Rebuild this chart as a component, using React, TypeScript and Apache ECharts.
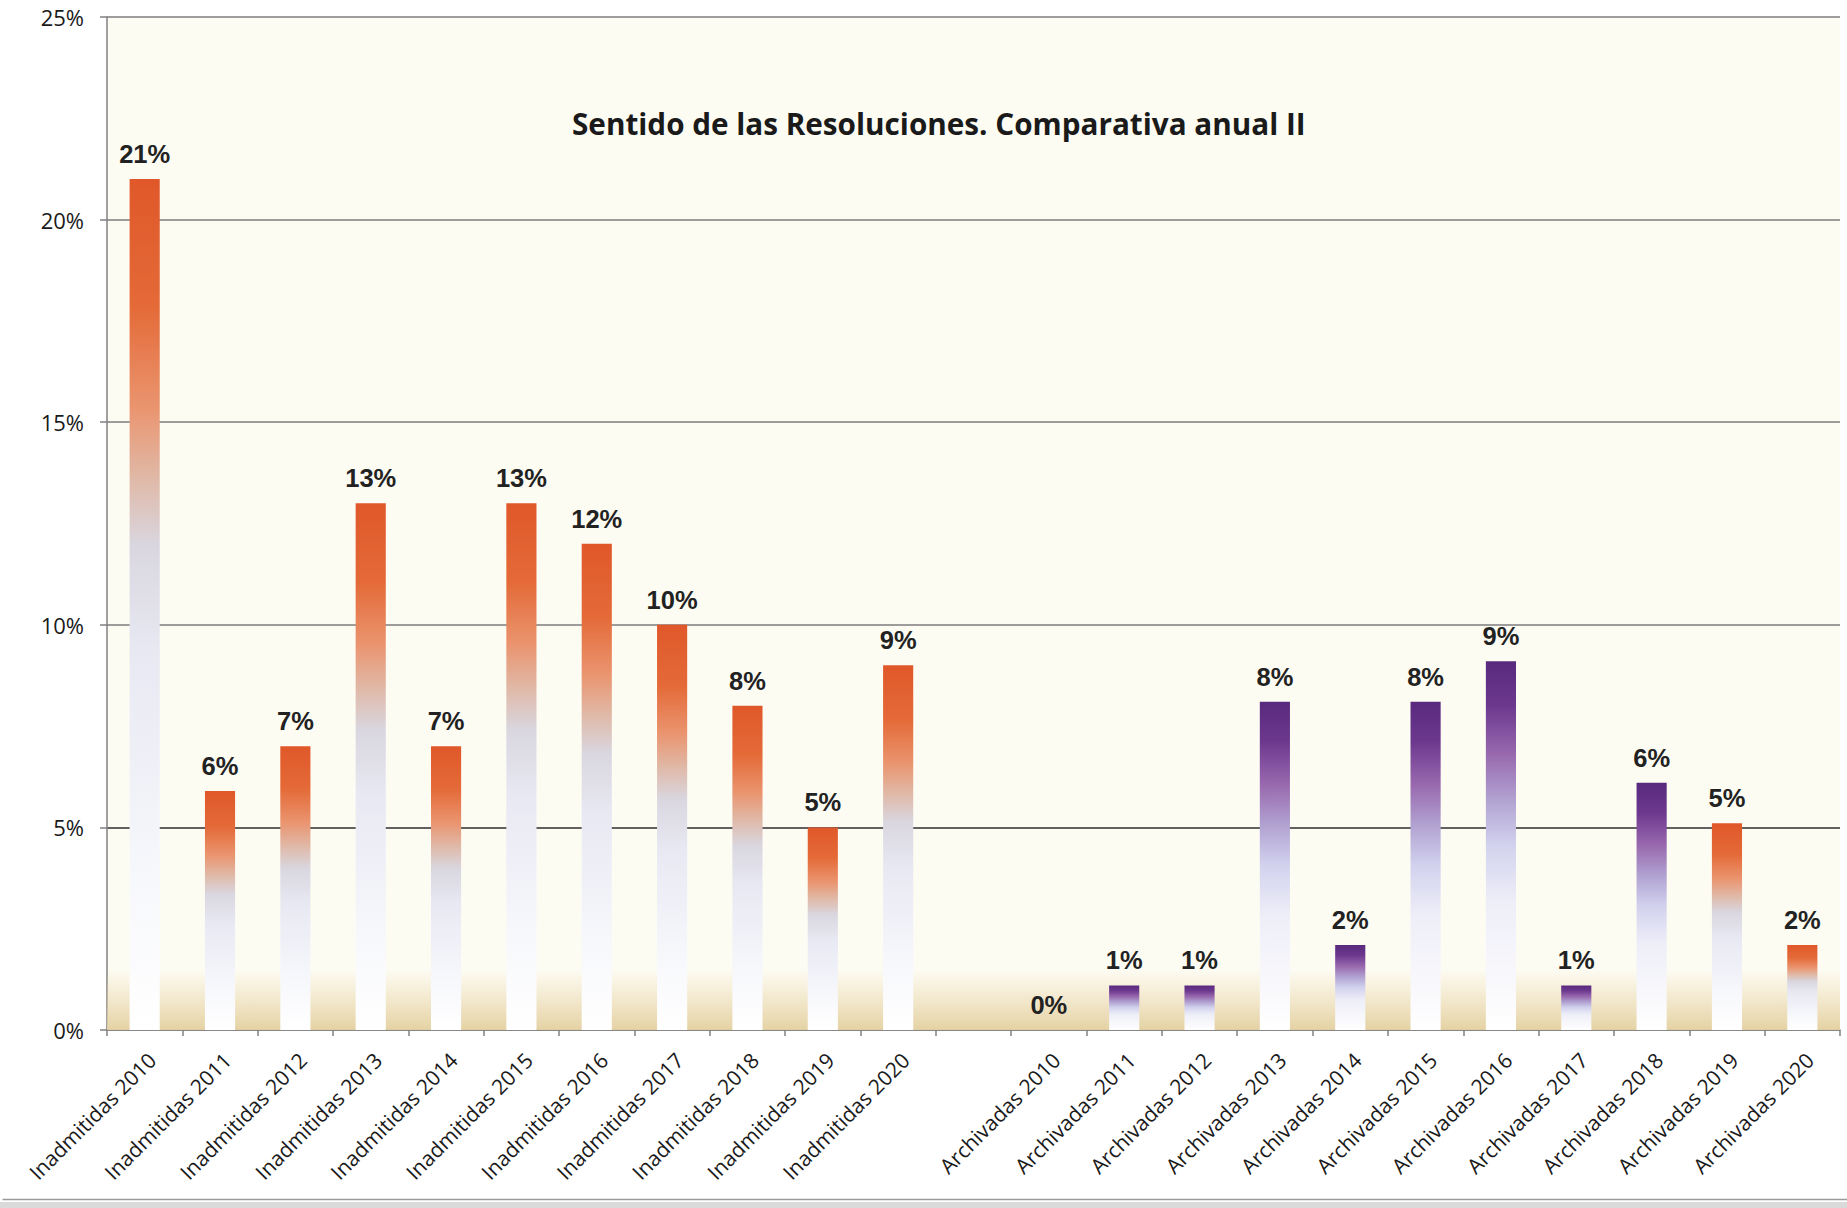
import React, { useEffect, useRef } from "react";
import * as echarts from "echarts";

// ---- Data ----
const years = ["2010", "2011", "2012", "2013", "2014", "2015", "2016", "2017", "2018", "2019", "2020"];
const inadmitidas = [21, 5.9, 7, 13, 7, 13, 12, 10, 8, 5, 9];
const archivadas = [0, 1.1, 1.1, 8.1, 2.1, 8.1, 9.1, 1.1, 6.1, 5.1, 2.1];
const inadmitidasLabels = years.map((y) => "Inadmitidas " + y);
const archivadasLabels = years.map((y) => "Archivadas " + y);
const categories = [...inadmitidasLabels, "", ...archivadasLabels];
const values: (number | null)[] = [...inadmitidas, null, ...archivadas];
const orangeArchivadasYears = ["2019", "2020"];
const titleText = "Sentido de las Resoluciones. Comparativa anual II";

const orangeGradient = () =>
  new echarts.graphic.LinearGradient(0, 0, 0, 1, [
    { offset: 0, color: "#E0582A" },
    { offset: 0.15, color: "#E46A38" },
    { offset: 0.27, color: "#EA9570" },
    { offset: 0.35, color: "#E0B8A6" },
    { offset: 0.43, color: "#D9D6DF" },
    { offset: 0.55, color: "#E7E8F2" },
    { offset: 0.8, color: "#F6F7FB" },
    { offset: 1, color: "#FFFFFF" },
  ]);

const purpleGradient = () =>
  new echarts.graphic.LinearGradient(0, 0, 0, 1, [
    { offset: 0, color: "#582A7E" },
    { offset: 0.12, color: "#6C388E" },
    { offset: 0.25, color: "#9868AE" },
    { offset: 0.38, color: "#B2A4D2" },
    { offset: 0.5, color: "#D2D2EE" },
    { offset: 0.65, color: "#EEEEF8" },
    { offset: 1, color: "#FFFFFF" },
  ]);

export default function App() {
  const ref = useRef<HTMLDivElement>(null);

  useEffect(() => {
    if (!ref.current) return;
    const chart = echarts.init(ref.current, null, { renderer: "svg" });

    const barData = values.map((v, i) => {
      if (v == null) return "-";
      const cat = categories[i];
      const isOrange =
        cat.startsWith("Inadmitidas") ||
        orangeArchivadasYears.some((y) => cat === "Archivadas " + y);
      return {
        value: v,
        itemStyle: { color: isOrange ? orangeGradient() : purpleGradient() },
      };
    });

    chart.setOption({
      animation: false,
      backgroundColor: "#FFFFFF",
      title: {
        text: titleText,
        left: 567,
        top: 103,
        textStyle: {
          fontFamily: "Open Sans",
          fontWeight: "bold",
          fontSize: 29.7,
          color: "#1a1a1a",
        },
      },
      grid: {
        left: 107,
        right: 7,
        top: 17,
        bottom: 178,
        show: true,
        backgroundColor: "#FDFCF3",
        borderWidth: 0,
      },
      xAxis: {
        type: "category",
        data: categories,
        axisLine: { show: true, lineStyle: { color: "#808080", width: 1.5 } },
        axisTick: { show: true, length: 6, lineStyle: { color: "#808080", width: 1.5 } },
        axisLabel: {
          interval: 0,
          rotate: 45,
          margin: 19,
          verticalAlign: "top",
          fontFamily: "Open Sans",
          fontSize: 21,
          color: "#1a1a1a",
        },
      },
      yAxis: {
        type: "value",
        min: 0,
        max: 25,
        interval: 5,
        axisLine: { show: true, lineStyle: { color: "#808080", width: 1.5 } },
        axisTick: { show: true, length: 7, lineStyle: { color: "#808080", width: 1.5 } },
        axisLabel: {
          formatter: "{value}%",
          margin: 23,
          fontFamily: "Open Sans",
          fontSize: 22,
          color: "#1a1a1a",
        },
        splitLine: {
          show: true,
          lineStyle: {
            color: ["#808080", "#2e2e2e", "#7c7c7c", "#7c7c7c", "#7c7c7c", "#7c7c7c"],
            width: 1.7,
          },
        },
      },
      series: [
        {
          type: "bar",
          data: barData,
          barWidth: "40%",
          label: {
            show: true,
            position: "top",
            distance: 12,
            fontFamily: "Liberation Sans",
            fontWeight: "bold",
            fontSize: 25.5,
            color: "#222222",
            formatter: (p: any) =>
              p.value == null || p.value === "-" ? "" : Math.round(p.value) + "%",
          },
          markArea: {
            silent: true,
            itemStyle: {
              color: new echarts.graphic.LinearGradient(0, 0, 0, 1, [
                { offset: 0, color: "rgba(232,212,166,0)" },
                { offset: 0.4, color: "rgba(232,212,166,0.4)" },
                { offset: 1, color: "rgba(228,208,160,0.95)" },
              ]),
            },
            data: [[{ yAxis: 0 }, { yAxis: 1.5 }]],
          },
        },
      ],
      graphic: [
        {
          type: "rect",
          left: 0,
          bottom: 0,
          shape: { width: 1847, height: 6 },
          style: { fill: "#DADADA" },
        },
        {
          type: "line",
          left: 0,
          bottom: 6,
          shape: { x1: 0, y1: 0, x2: 1847, y2: 0 },
          style: { stroke: "#9a9a9a", lineWidth: 1.5 },
        },
      ],
    });

    return () => chart.dispose();
  }, []);

  return (
    <div
      ref={ref}
      style={{ position: "absolute", left: 0, top: 0, width: 1847, height: 1208 }}
    />
  );
}
